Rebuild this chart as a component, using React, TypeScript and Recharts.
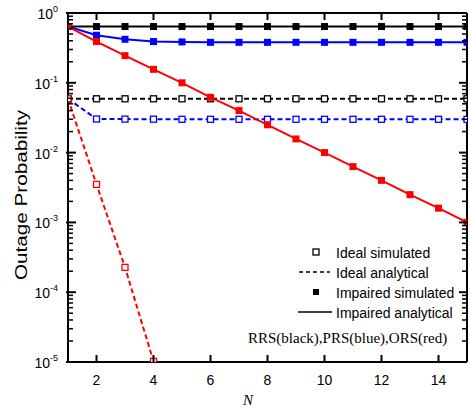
import React from 'react';
import { LineChart, Line, XAxis, YAxis, Legend } from 'recharts';

// number of relays
const nValues = [1, 2, 3, 4, 5, 6, 7, 8, 9, 10, 11, 12, 13, 14, 15];

// RRS (black)
const rrsIdeal = [0.059, 0.059, 0.059, 0.059, 0.059, 0.059, 0.059, 0.059, 0.059, 0.059, 0.059, 0.059, 0.059, 0.059, 0.059];
const rrsImpaired = [0.64, 0.64, 0.64, 0.64, 0.64, 0.64, 0.64, 0.64, 0.64, 0.64, 0.64, 0.64, 0.64, 0.64, 0.64];

// PRS (blue)
const prsIdeal = [0.059, 0.0303, 0.0302, 0.0301, 0.03, 0.03, 0.03, 0.03, 0.03, 0.03, 0.03, 0.03, 0.03, 0.03, 0.03];
const prsImpaired = [0.64, 0.48, 0.42, 0.39, 0.385, 0.38, 0.38, 0.38, 0.38, 0.38, 0.38, 0.38, 0.38, 0.38, 0.38];

// ORS (red)
const orsIdeal = [0.059, 0.0035, 0.000227, 0.0000102];
const orsImpaired = [0.64, 0.39, 0.245, 0.156, 0.1, 0.062, 0.04, 0.025, 0.0157, 0.01, 0.0063, 0.004, 0.0025, 0.0016, 0.001];

const xTicks = [2, 4, 6, 8, 10, 12, 14];
const yMajorTicks = [1e-5, 1e-4, 1e-3, 1e-2, 1e-1, 1];
const yMinorSteps = [2, 3, 4, 5, 6, 7, 8, 9];

const yTicks = [
  ...yMajorTicks,
  ...yMajorTicks.slice(0, -1).flatMap((d) => yMinorSteps.map((m) => m * d)),
];

const data = nValues.map((n, i) => ({
  n,
  rrsIdeal: rrsIdeal[i],
  rrsImpaired: rrsImpaired[i],
  prsIdeal: prsIdeal[i],
  prsImpaired: prsImpaired[i],
  orsIdeal: i < orsIdeal.length ? orsIdeal[i] : null,
  orsImpaired: orsImpaired[i],
}));

const SANS = "'Liberation Sans', Arial, sans-serif";
const SERIF = "'Liberation Serif', 'Times New Roman', serif";

const SquareDot = (props: any) => {
  const { cx, cy, solid, boxColor, boxSize } = props;
  if (cx == null || cy == null || !Number.isFinite(cy)) return null;
  const h = boxSize / 2;
  return solid ? (
    <rect x={cx - h} y={cy - h} width={boxSize} height={boxSize} fill={boxColor} stroke="none" />
  ) : (
    <rect x={cx - h} y={cy - h} width={boxSize} height={boxSize} fill="#fff" stroke={boxColor} strokeWidth={1.3} />
  );
};

const LeftTick = (props: any) => {
  const { x, y, payload } = props;
  const major = yMajorTicks.includes(payload.value);
  return (
    <g>
      <line x1={major ? x - 2 : x} x2={x + (major ? 8 : 5)} y1={y} y2={y} stroke="#000" strokeWidth={major ? 2 : 1.5} />
      {major && (
        <text x={x - 10} y={y + 6} textAnchor="end" fontSize={14} fontFamily={SANS} fill="#000">
          <tspan>10</tspan>
          <tspan dy={-7} fontSize={9}>{Math.round(Math.log10(payload.value))}</tspan>
        </text>
      )}
    </g>
  );
};

const RightTick = (props: any) => {
  const { x, y, payload } = props;
  const major = yMajorTicks.includes(payload.value);
  return <line x1={x} x2={x - (major ? 8 : 5)} y1={y} y2={y} stroke="#000" strokeWidth={major ? 2 : 1.5} />;
};

const BottomTick = (props: any) => {
  const { x, y, payload } = props;
  return (
    <g>
      <line x1={x} x2={x} y1={y} y2={y - 7} stroke="#000" strokeWidth={2} />
      <text x={x} y={y + 23} textAnchor="middle" fontSize={14} fontFamily={SANS} fill="#000">
        {payload.value}
      </text>
    </g>
  );
};

const TopTick = (props: any) => {
  const { x, y } = props;
  return <line x1={x} x2={x} y1={y} y2={y + 7} stroke="#000" strokeWidth={2} />;
};

const YLabel = (props: any) => {
  const { viewBox } = props;
  const cx = viewBox.x + 21;
  const cy = viewBox.y + 182;
  return (
    <text
      x={cx}
      y={cy}
      transform={`rotate(-90, ${cx}, ${cy})`}
      textAnchor="middle"
      dominantBaseline="central"
      fontSize={16}
      fontFamily={SANS}
      textLength={170}
      lengthAdjust="spacingAndGlyphs"
      fill="#000"
    >
      Outage Probability
    </text>
  );
};

const XLabel = (props: any) => {
  const { viewBox } = props;
  return (
    <text x={viewBox.x + 180} y={viewBox.y + 43} textAnchor="middle" fontSize={15} fontStyle="italic" fontFamily={SERIF} fill="#000">
      N
    </text>
  );
};

const StyleLegend = () => (
  <svg width={230} height={110} style={{ display: 'block' }}>
    <rect x={73} y={9} width={6} height={6} fill="#fff" stroke="#000" strokeWidth={1.3} />
    <text x={96} y={17.5} fontSize={14} fontFamily={SANS}>Ideal simulated</text>
    <line x1={59} x2={90} y1={32} y2={32} stroke="#000" strokeWidth={1.5} strokeDasharray="4 3" />
    <text x={96} y={37.5} fontSize={14} fontFamily={SANS}>Ideal analytical</text>
    <rect x={73} y={49} width={6} height={6} fill="#000" />
    <text x={96} y={57.5} fontSize={14} fontFamily={SANS}>Impaired simulated</text>
    <line x1={58} x2={92} y1={72} y2={72} stroke="#000" strokeWidth={1.5} />
    <text x={96} y={77.5} fontSize={14} fontFamily={SANS}>Impaired analytical</text>
    <text x={8} y={103} fontSize={15} fontFamily={SERIF}>RRS(black),PRS(blue),ORS(red)</text>
  </svg>
);

const series = [
  { key: 'prsIdeal', color: '#0000ff', ideal: true },
  { key: 'rrsIdeal', color: '#000000', ideal: true },
  { key: 'orsIdeal', color: '#ff0000', ideal: true },
  { key: 'rrsImpaired', color: '#000000', ideal: false },
  { key: 'prsImpaired', color: '#0000ff', ideal: false },
  { key: 'orsImpaired', color: '#ff0000', ideal: false },
];

export default function App() {
  return (
    <div style={{ position: 'absolute', left: 0, top: 0, background: '#fff' }}>
      <LineChart width={470} height={411} data={data} margin={{ top: 12, right: 0, bottom: 0, left: 0 }}>
        <XAxis
          dataKey="n"
          type="number"
          domain={[1, 15]}
          ticks={xTicks}
          interval={0}
          allowDataOverflow
          height={49}
          tickSize={0}
          tickMargin={0}
          tickLine={false}
          axisLine={{ stroke: '#000', strokeWidth: 2 }}
          tick={<BottomTick />}
          label={<XLabel />}
        />
        <XAxis
          xAxisId="top"
          orientation="top"
          dataKey="n"
          type="number"
          domain={[1, 15]}
          ticks={xTicks}
          interval={0}
          allowDataOverflow
          height={1}
          tickSize={0}
          tickMargin={0}
          tickLine={false}
          axisLine={{ stroke: '#000', strokeWidth: 2 }}
          tick={<TopTick />}
        />
        <YAxis
          scale="log"
          domain={[1e-5, 1]}
          allowDataOverflow
          ticks={yTicks}
          interval={0}
          width={68}
          tickSize={0}
          tickMargin={0}
          tickLine={false}
          axisLine={{ stroke: '#000', strokeWidth: 2 }}
          tick={<LeftTick />}
          label={<YLabel />}
        />
        <YAxis
          yAxisId="right"
          orientation="right"
          scale="log"
          domain={[1e-5, 1]}
          allowDataOverflow
          ticks={yTicks}
          interval={0}
          width={3}
          tickSize={0}
          tickMargin={0}
          tickLine={false}
          axisLine={{ stroke: '#000', strokeWidth: 2 }}
          tick={<RightTick />}
        />
        <Legend
          layout="vertical"
          verticalAlign="middle"
          align="center"
          content={<StyleLegend />}
          wrapperStyle={{ left: 240, top: 240, width: 230, height: 110 }}
        />
        {series.map((s) => (
          <Line
            key={s.key}
            type="linear"
            dataKey={s.key}
            stroke={s.color}
            strokeWidth={2}
            strokeDasharray={s.ideal ? '5 3' : undefined}
            dot={<SquareDot solid={!s.ideal} boxColor={s.color} boxSize={s.ideal ? 6 : 7} />}
            activeDot={false}
            connectNulls={false}
            isAnimationActive={false}
          />
        ))}
      </LineChart>
    </div>
  );
}
